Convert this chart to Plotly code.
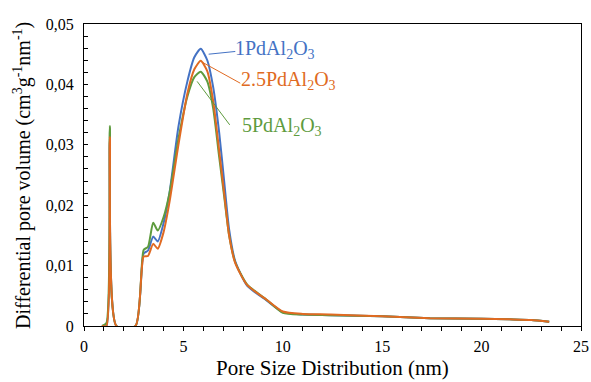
import plotly.graph_objects as go

# Pore size (nm)
pore_size = [0.9, 1.13, 1.30, 1.63, 2.59, 3.0, 3.22, 3.48, 3.71, 4.0, 4.3, 4.75, 5.2, 5.55,
             5.87, 6.2, 6.5, 6.8, 7.05, 7.3, 7.6, 8.2, 9.2, 10.0, 11.0, 12.4, 15.0, 17.4,
             20.0, 21.4, 22.5, 23.4]

pd1 = [0, 0, 0.0310, 0, 0, 0.0120, 0.0125, 0.0148, 0.0140, 0.0170, 0.0220, 0.0330, 0.0405,
       0.0445, 0.0459, 0.0440, 0.0395, 0.0320, 0.0240, 0.0160, 0.0108, 0.0067, 0.0042,
       0.0023, 0.0019, 0.0018, 0.0016, 0.0013, 0.0012, 0.0011, 0.0010, 0.0007]

pd25 = [0, 0, 0.0313, 0, 0, 0.0115, 0.0116, 0.0136, 0.0128, 0.0155, 0.0205, 0.0300, 0.0385,
        0.0425, 0.0439, 0.0422, 0.0372, 0.0290, 0.0220, 0.0150, 0.0105, 0.0068, 0.0043,
        0.0024, 0.0020, 0.0019, 0.0016, 0.0013, 0.0012, 0.0011, 0.0010, 0.0007]

pd5 = [0, 0.0005, 0.0331, 0, 0, 0.0126, 0.0131, 0.0171, 0.0158, 0.0180, 0.0220, 0.0310, 0.0380,
       0.0412, 0.0421, 0.0405, 0.0360, 0.0280, 0.0215, 0.0150, 0.0106, 0.0069, 0.0043,
       0.0022, 0.0019, 0.0018, 0.0016, 0.0013, 0.0012, 0.0011, 0.0010, 0.0007]

series_names = ["1PdAl<sub>2</sub>O<sub>3</sub>", "2.5PdAl<sub>2</sub>O<sub>3</sub>", "5PdAl<sub>2</sub>O<sub>3</sub>"]
colors = ["#4472C4", "#E06A22", "#5E9B3E"]

y_tickvals = [0, 0.01, 0.02, 0.03, 0.04, 0.05]
y_ticktext = ["0", "0,01", "0,02", "0,03", "0,04", "0,05"]
x_tickvals = [0, 5, 10, 15, 20, 25]

x_title = "Pore Size Distribution (nm)"
y_title = "Differential pore volume (cm<sup>3</sup>g<sup>-1</sup>nm<sup>-1</sup>)"

# label positions (data coords) and leader lines
label_pos = [(7.51, 0.0458), (7.81, 0.0406), (7.85, 0.0330)]
leaders = [((6.27, 0.0450), (7.61, 0.04545)),
           ((5.99, 0.0436), (7.86, 0.0402)),
           ((5.69, 0.0405), (7.33, 0.0333))]

FONT = "Times New Roman, Liberation Serif, serif"

fig = go.Figure()
for ys, c, n in [(pd1, colors[0], series_names[0]), (pd5, colors[2], series_names[2]),
                 (pd25, colors[1], series_names[1])]:
    fig.add_trace(go.Scatter(x=pore_size, y=ys, mode="lines", name=n,
                             line=dict(color=c, width=2, shape="spline", smoothing=0.6)))

for (p0, p1), c in zip(leaders, colors):
    fig.add_shape(type="line", x0=p0[0], y0=p0[1], x1=p1[0], y1=p1[1],
                  xref="x", yref="y", line=dict(color=c, width=1))

for (lx, ly), c, n in zip(label_pos, colors, series_names):
    fig.add_annotation(x=lx, y=ly, xref="x", yref="y", text=n, showarrow=False,
                       xanchor="left", yanchor="middle",
                       font=dict(family=FONT, size=20, color=c))

# axis titles
fig.add_annotation(x=0.5, y=-0.140, xref="paper", yref="paper", text=x_title,
                   showarrow=False, xanchor="center", yanchor="middle",
                   font=dict(family=FONT, size=21, color="black"))
fig.add_annotation(x=-0.125, y=0.5, xref="paper", yref="paper", text=y_title,
                   showarrow=False, xanchor="center", yanchor="middle", textangle=-90,
                   font=dict(family=FONT, size=20, color="black"))

fig.update_layout(
    width=591, height=382, autosize=False,
    margin=dict(l=84, r=10, t=24, b=56, pad=0, autoexpand=False),
    plot_bgcolor="white", paper_bgcolor="white",
    showlegend=False,
    font=dict(family=FONT, color="black"),
)
fig.update_xaxes(range=[0, 25], tickvals=x_tickvals, ticks="outside", ticklen=4,
                 tickcolor="black", showline=True, linecolor="black", linewidth=1.3,
                 mirror=True, showgrid=False, zeroline=False, ticklabelstandoff=2,
                 automargin=False,
                 minor=dict(dtick=1, ticks="outside", ticklen=4, tickcolor="black"),
                 tickfont=dict(family=FONT, size=16, color="black"))
fig.update_yaxes(range=[0, 0.05], tickvals=y_tickvals, ticktext=y_ticktext,
                 ticks="inside", ticklen=4, tickcolor="black", showline=True,
                 linecolor="black", linewidth=1.3, mirror=True, showgrid=False,
                 zeroline=False, automargin=False, ticklabelstandoff=6,
                 minor=dict(dtick=0.002, ticks="inside", ticklen=4, tickcolor="black"),
                 tickfont=dict(family=FONT, size=16, color="black"))

fig.write_html("out.html", config={"displayModeBar": False},
               post_script="document.body.style.margin='0';document.body.style.padding='0';")
